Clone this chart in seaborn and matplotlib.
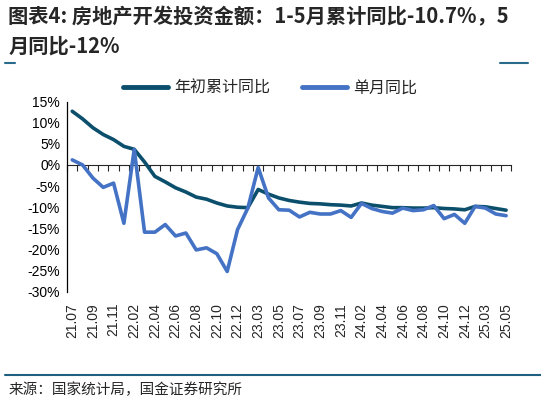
import numpy as np
import pandas as pd
import matplotlib
matplotlib.use("Agg")
import matplotlib.pyplot as plt
from matplotlib.lines import Line2D
import seaborn as sns

# month labels (Jan is merged into Feb every year)
months = ["21.07", "21.08", "21.09", "21.10", "21.11", "21.12",
          "22.02", "22.03", "22.04", "22.05", "22.06", "22.07", "22.08", "22.09", "22.10", "22.11", "22.12",
          "23.02", "23.03", "23.04", "23.05", "23.06", "23.07", "23.08", "23.09", "23.10", "23.11", "23.12",
          "24.02", "24.03", "24.04", "24.05", "24.06", "24.07", "24.08", "24.09", "24.10", "24.11", "24.12",
          "25.02", "25.03", "25.04", "25.05"]

# 年初累计同比 (%)
ytd_yoy = [12.7, 10.9, 8.8, 7.2, 6.0, 4.4,
           3.7, 0.7, -2.7, -4.0, -5.4, -6.4, -7.6, -8.1, -9.0, -9.7, -10.0,
           -10.1, -5.8, -6.9, -7.8, -8.4, -8.8, -9.1, -9.2, -9.4, -9.5, -9.7,
           -9.0, -9.5, -9.8, -10.1, -10.1, -10.2, -10.2, -10.1, -10.3, -10.4, -10.6,
           -9.8, -9.9, -10.3, -10.7]

# 单月同比 (%)
mom_yoy = [1.2, 0.0, -3.1, -5.3, -4.3, -13.8,
           3.7, -15.9, -15.9, -14.1, -16.8, -16.1, -20.1, -19.6, -21.0, -25.2, -15.3,
           -10.2, -0.6, -7.8, -10.6, -10.7, -12.3, -11.2, -11.6, -11.6, -10.8, -12.4,
           -9.1, -10.3, -11.0, -11.4, -10.2, -10.8, -10.6, -9.6, -12.7, -11.7, -13.8,
           -9.8, -10.2, -11.6, -12.0]

series_names = ["年初累计同比", "单月同比"]
colors = ["#0B4F6C", "#4472C4"]
yticks = [15, 10, 5, 0, -5, -10, -15, -20, -25, -30]

title_1 = "图表4: 房地产开发投资金额：1-5月累计同比-10.7%，5"
title_2 = "月同比-12%"
source = "来源：国家统计局，国金证券研究所"

df = pd.DataFrame({
    "idx": list(range(len(months))) * 2,
    "value": ytd_yoy + mom_yoy,
    "series": [series_names[0]] * len(months) + [series_names[1]] * len(months),
})

sns.set_style("white")
plt.rcParams["font.family"] = ["Liberation Sans", "Noto Sans CJK SC", "DejaVu Sans"]
cjk = ["Noto Sans CJK SC", "DejaVu Sans"]

fig = plt.figure(figsize=(5.41, 4.03), dpi=100)
ax = fig.add_axes([0.124, 0.276, 0.821, 0.472])

sns.lineplot(data=df, x="idx", y="value", hue="series", hue_order=series_names,
             palette=colors, linewidth=2.6, ax=ax, legend=False)

ax.set_xlim(-0.5, len(months) - 0.5)
ax.set_ylim(-30, 15)
ax.set_yticks(yticks)
ax.set_yticklabels([f"{v}%" for v in yticks], fontsize=10)
ax.tick_params(axis="y", direction="out", length=3, width=0.8, pad=2, colors="black")
ax.set_xticks(range(0, len(months), 2))
ax.set_xticklabels(months[::2], rotation=90, fontsize=10)
ax.tick_params(axis="x", length=0, pad=8)
ax.set_xlabel("")
ax.set_ylabel("")
for s in ["top", "right", "bottom"]:
    ax.spines[s].set_visible(False)
ax.spines["left"].set_color("black")
ax.spines["left"].set_linewidth(0.9)

# zero line with category-boundary ticks
y0, y1 = ax.get_ylim()
zero_frac = (0 - y0) / (y1 - y0)
sec = ax.secondary_xaxis(zero_frac)
sec.set_xticks(np.arange(-0.5, len(months), 1.0))
sec.tick_params(direction="in", length=4, width=0.8, labelbottom=False, labeltop=False)
sec.spines["bottom"].set_color("black")
sec.spines["bottom"].set_linewidth(1.1)

handles = [Line2D([], [], color=c, linewidth=3.5) for c in colors]
leg = fig.legend(handles, series_names, loc="center", bbox_to_anchor=(0.50, 0.782),
                 ncol=2, frameon=False, handlelength=2.8, columnspacing=2.0,
                 handletextpad=0.4, prop={"family": cjk, "size": 11.5})

fig.text(0.015, 1 - 17 / 403, title_1, fontsize=14.6, fontweight="bold", style="italic",
         family=cjk, va="center", ha="left")
fig.text(0.015, 1 - 46 / 403, title_2, fontsize=14.6, fontweight="bold", style="italic",
         family=cjk, va="center", ha="left")

rule_color = "#2A6A8A"
fig.add_artist(Line2D([5 / 541, 15 / 541], [1 - 63 / 403] * 2, color=rule_color, linewidth=1.5))
fig.add_artist(Line2D([500 / 541, 528 / 541], [1 - 63 / 403] * 2, color=rule_color, linewidth=1.5))
fig.add_artist(Line2D([5 / 541, 1.0], [1 - 375 / 403] * 2, color="#1F5F7F", linewidth=1.5))

fig.text(0.015, 1 - 390 / 403, source, fontsize=10.5, family=cjk, va="center", ha="left")

fig.savefig("out.png", dpi=100)
